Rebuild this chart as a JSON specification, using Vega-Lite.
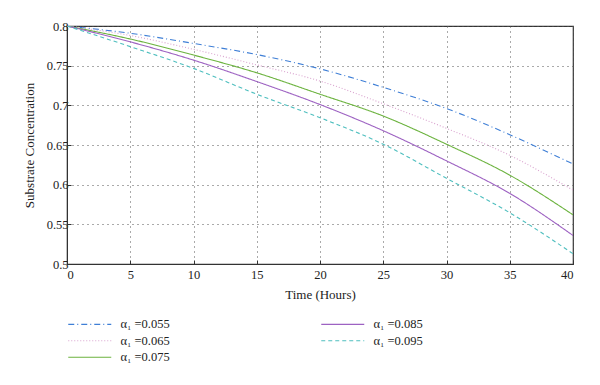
{
  "$schema": "https://vega.github.io/schema/vega-lite/v6.json",
  "width": 506,
  "height": 238,
  "autosize": "none",
  "padding": {"left": 67, "top": 26, "right": 27, "bottom": 121},
  "background": "white",
  "config": {
    "font": "Liberation Serif",
    "view": {"stroke": "#333333", "strokeWidth": 1.2},
    "axis": {
      "labelFont": "Liberation Serif",
      "titleFont": "Liberation Serif",
      "labelFontSize": 12.5,
      "titleFontSize": 13,
      "labelColor": "#222",
      "titleColor": "#222",
      "titleFontWeight": "normal",
      "grid": true,
      "gridColor": "#555",
      "gridDash": [1, 4],
      "gridWidth": 1,
      "domainColor": "#333",
      "tickColor": "#333",
      "tickSize": -4,
      "labelPadding": 8
    },
    "legend": {
      "labelFont": "Liberation Serif",
      "labelFontSize": 12.5,
      "labelColor": "#222"
    }
  },
  "data": {
    "values": [
      {"t": 0, "v": 0.8, "a": "0.055"}, {"t": 5, "v": 0.7908, "a": "0.055"}, {"t": 10, "v": 0.778, "a": "0.055"}, {"t": 15, "v": 0.764, "a": "0.055"}, {"t": 20, "v": 0.746, "a": "0.055"}, {"t": 25, "v": 0.7227, "a": "0.055"}, {"t": 30, "v": 0.696, "a": "0.055"}, {"t": 35, "v": 0.663, "a": "0.055"}, {"t": 40, "v": 0.626, "a": "0.055"},
      {"t": 0, "v": 0.8, "a": "0.065"}, {"t": 5, "v": 0.788, "a": "0.065"}, {"t": 10, "v": 0.7706, "a": "0.065"}, {"t": 15, "v": 0.751, "a": "0.065"}, {"t": 20, "v": 0.7306, "a": "0.065"}, {"t": 25, "v": 0.702, "a": "0.065"}, {"t": 30, "v": 0.671, "a": "0.065"}, {"t": 35, "v": 0.637, "a": "0.065"}, {"t": 40, "v": 0.593, "a": "0.065"},
      {"t": 0, "v": 0.8, "a": "0.075"}, {"t": 5, "v": 0.7836, "a": "0.075"}, {"t": 10, "v": 0.7634, "a": "0.075"}, {"t": 15, "v": 0.741, "a": "0.075"}, {"t": 20, "v": 0.714, "a": "0.075"}, {"t": 25, "v": 0.6865, "a": "0.075"}, {"t": 30, "v": 0.651, "a": "0.075"}, {"t": 35, "v": 0.612, "a": "0.075"}, {"t": 40, "v": 0.562, "a": "0.075"},
      {"t": 0, "v": 0.8, "a": "0.085"}, {"t": 5, "v": 0.78, "a": "0.085"}, {"t": 10, "v": 0.757, "a": "0.085"}, {"t": 15, "v": 0.73, "a": "0.085"}, {"t": 20, "v": 0.701, "a": "0.085"}, {"t": 25, "v": 0.668, "a": "0.085"}, {"t": 30, "v": 0.63, "a": "0.085"}, {"t": 35, "v": 0.589, "a": "0.085"}, {"t": 40, "v": 0.536, "a": "0.085"},
      {"t": 0, "v": 0.8, "a": "0.095"}, {"t": 5, "v": 0.774, "a": "0.095"}, {"t": 10, "v": 0.7466, "a": "0.095"}, {"t": 15, "v": 0.714, "a": "0.095"}, {"t": 20, "v": 0.6844, "a": "0.095"}, {"t": 25, "v": 0.651, "a": "0.095"}, {"t": 30, "v": 0.608, "a": "0.095"}, {"t": 35, "v": 0.5646, "a": "0.095"}, {"t": 40, "v": 0.513, "a": "0.095"}
    ]
  },
  "mark": {"type": "line", "interpolate": "monotone", "strokeWidth": 1.1, "clip": true},
  "encoding": {
    "x": {
      "field": "t", "type": "quantitative",
      "scale": {"domain": [0, 40], "nice": false},
      "axis": {"values": [0, 5, 10, 15, 20, 25, 30, 35, 40], "title": "Time (Hours)", "titlePadding": 8}
    },
    "y": {
      "field": "v", "type": "quantitative",
      "scale": {"domain": [0.5, 0.8], "nice": false, "zero": false},
      "axis": {"values": [0.5, 0.55, 0.6, 0.65, 0.7, 0.75, 0.8], "format": "~g", "title": "Substrate Concentration", "titlePadding": 10, "labelPadding": 3}
    },
    "color": {
      "field": "a", "type": "nominal",
      "scale": {
        "domain": ["0.055", "0.065", "0.075", "0.085", "0.095"],
        "range": ["#3f7fd6", "#d9a3cf", "#6cb33f", "#9d62c2", "#4fbfbf"]
      },
      "legend": {
        "title": null,
        "orient": "none",
        "direction": "vertical",
        "legendX": 16.5,
        "legendY": 292,
        "columns": 2,
        "columnPadding": 148,
        "rowPadding": 3.5,
        "symbolType": "M-4.3,0H4.3",
        "symbolSize": 100,
        "symbolStrokeWidth": 1.1,
        "symbolOffset": 0,
        "labelOffset": 24.5,
        "labelExpr": "'α₁ =' + datum.label"
      }
    },
    "strokeDash": {
      "field": "a", "type": "nominal",
      "scale": {
        "domain": ["0.055", "0.065", "0.075", "0.085", "0.095"],
        "range": [[6, 3, 1, 3], [1, 2], [1, 0], [1, 0], [4, 3]]
      },
      "legend": null
    }
  }
}
